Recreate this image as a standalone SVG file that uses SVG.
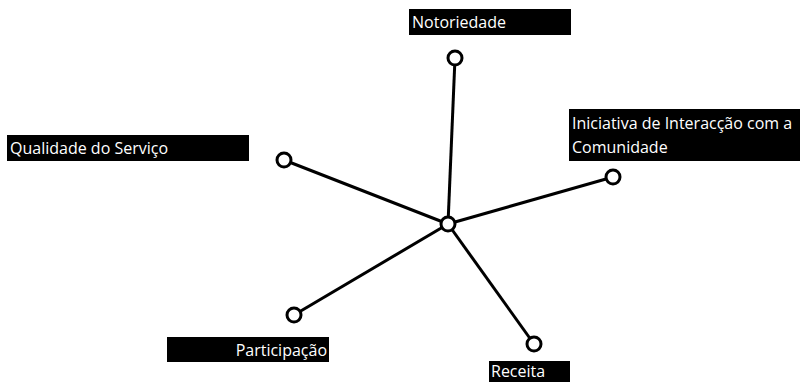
<svg xmlns="http://www.w3.org/2000/svg" width="800" height="382" viewBox="0 0 800 382">
<style>
.lbl{fill:#000}
.t{fill:#fff;font-family:"Open Sans","DejaVu Sans",sans-serif;font-size:16px}
.n{fill:#fff;stroke:#000;stroke-width:3}
.c line{stroke:#000;stroke-width:3}
</style>
<rect width="800" height="382" fill="#fff"/>
<g class="c" id="connectors">
<line x1="448" y1="224" x2="455" y2="58"/>
<line x1="448" y1="224" x2="284" y2="160"/>
<line x1="448" y1="224" x2="613" y2="177"/>
<line x1="448" y1="224" x2="294" y2="315"/>
<line x1="448" y1="224" x2="534" y2="344"/>
</g>
<g id="center"><circle class="n" cx="448" cy="224" r="7"/></g>
<g id="notoriedade">
<rect class="lbl" x="409" y="9" width="162" height="26"/>
<text class="t" x="412" y="28">Notoriedade</text>
<circle class="n" cx="455" cy="58" r="7"/>
</g>
<g id="qualidade">
<rect class="lbl" x="7" y="135" width="242" height="26"/>
<text class="t" x="10" y="154">Qualidade do Serviço</text>
<circle class="n" cx="284" cy="160" r="7"/>
</g>
<g id="iniciativa">
<rect class="lbl" x="569" y="109" width="231" height="52"/>
<text class="t" x="572" y="129">Iniciativa de Interacção com a</text>
<text class="t" x="572" y="153">Comunidade</text>
<circle class="n" cx="613" cy="177" r="7"/>
</g>
<g id="participacao">
<rect class="lbl" x="167" y="337" width="162" height="25"/>
<text class="t" x="327" y="356" text-anchor="end">Participação</text>
<circle class="n" cx="294" cy="315" r="7"/>
</g>
<g id="receita">
<rect class="lbl" x="489" y="361" width="81" height="21"/>
<text class="t" x="491" y="377">Receita</text>
<circle class="n" cx="534" cy="344" r="7"/>
</g>
</svg>
